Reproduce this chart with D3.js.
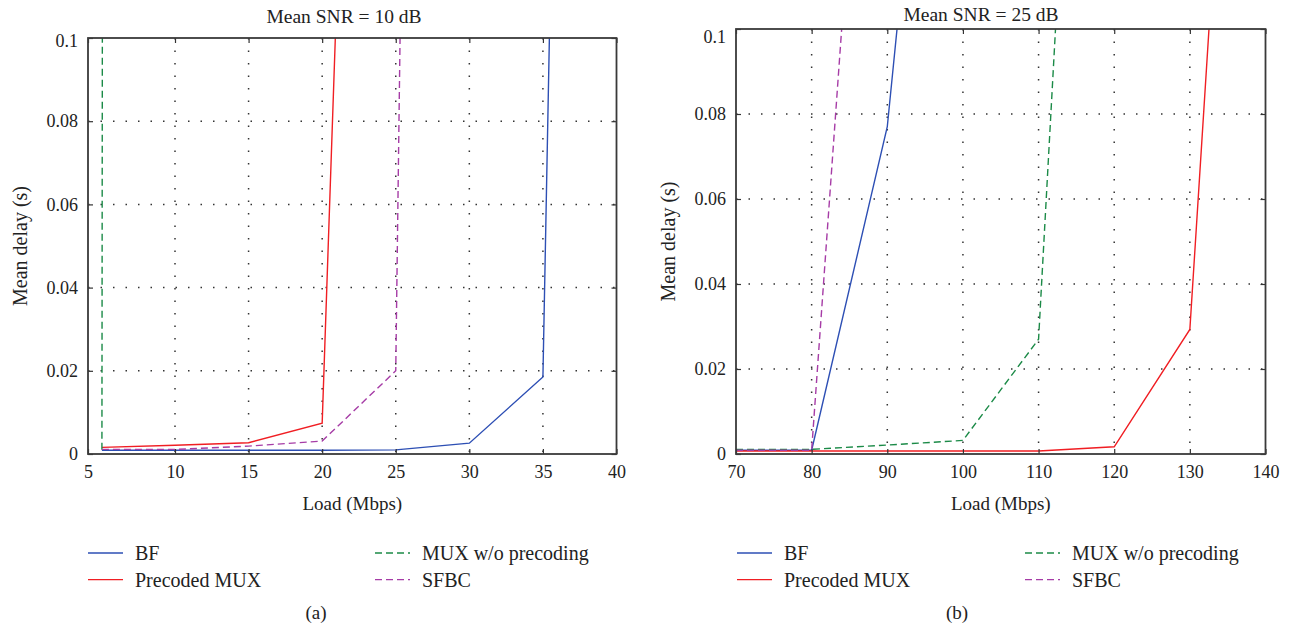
<!DOCTYPE html>
<html>
<head>
<meta charset="utf-8">
<script src="https://cdn.jsdelivr.net/npm/d3@7"></script>
<style>
  body { margin: 0; background: #fff; }
  svg text { font-family: "Liberation Serif", "Times New Roman", serif; fill: #222; }
</style>
</head>
<body>
<svg id="chart" width="1290" height="628"></svg>
<script>
// ---- data ----
// panel (a) : Mean SNR = 10 dB
var loadTicksA = [5, 10, 15, 20, 25, 30, 35, 40];
var bfLoadA   = [5.8, 10, 15, 20, 25, 30, 35, 35.45];
var bfDelayA  = [0.0009, 0.0009, 0.0009, 0.0009, 0.001, 0.0026, 0.0185, 0.102];
var pmuxLoadA  = [5.8, 10, 15, 20, 21];
var pmuxDelayA = [0.0016, 0.0021, 0.0027, 0.0074, 0.111];
var muxLoadA  = [5.8, 5.85];
var muxDelayA = [0.001, 0.2];
var sfbcLoadA  = [5.8, 10, 15, 20, 25, 25.3];
var sfbcDelayA = [0.0011, 0.0011, 0.0019, 0.0031, 0.02, 0.102];

// panel (b) : Mean SNR = 25 dB
var loadTicksB = [70, 80, 90, 100, 110, 120, 130, 140];
var bfLoadB   = [70, 80, 90, 91.4];
var bfDelayB  = [0.0009, 0.0009, 0.077, 0.102];
var pmuxLoadB  = [70, 80, 90, 100, 110, 120, 130, 132.6];
var pmuxDelayB = [0.0007, 0.0007, 0.0007, 0.0007, 0.0007, 0.0017, 0.0293, 0.102];
var muxLoadB  = [70, 80, 90, 100, 110, 112.3];
var muxDelayB = [0.0011, 0.0011, 0.0021, 0.0032, 0.027, 0.102];
var sfbcLoadB  = [70, 80, 84.05];
var sfbcDelayB = [0.0009, 0.0009, 0.102];

var delayTicks = [0, 0.02, 0.04, 0.06, 0.08, 0.1];
var seriesNames = ["BF", "Precoded MUX", "MUX w/o precoding", "SFBC"];
var seriesColors = ["#2d4fb4", "#f01e23", "#1b8a47", "#a63ca6"];
var seriesDash = [null, null, "7,4", "7,4"];

var svg = d3.select("#chart");

function zip(xs, ys) {
  return xs.map(function(x, i) { return { x: x, y: ys[i] }; });
}

function drawPanel(p) {
  var g = svg.append("g");
  var x = d3.scaleLinear().domain(p.xDomain).range(p.xRange);
  var y = d3.scaleLinear().domain([0, 0.1]).range([p.bottom, p.top]);
  var left = p.xRange[0], right = p.xRange[p.xRange.length - 1];
  var w = right - left, h = p.bottom - p.top;

  // dotted grid
  var grid = g.append("g");
  grid.selectAll("line.v").data(p.xTicks.slice(1, -1))
    .enter().append("line").attr("class", "v")
    .attr("x1", function(d) { return x(d); }).attr("x2", function(d) { return x(d); })
    .attr("y1", p.top).attr("y2", p.bottom);
  grid.selectAll("line.h").data(delayTicks.slice(1, -1))
    .enter().append("line").attr("class", "h")
    .attr("x1", left).attr("x2", right)
    .attr("y1", function(d) { return y(d); }).attr("y2", function(d) { return y(d); });
  grid.selectAll("line")
    .attr("stroke", "#333").attr("stroke-width", 1.5)
    .attr("stroke-dasharray", "1.5,11");

  // curves
  var clipId = "clip" + p.id;
  svg.append("clipPath").attr("id", clipId).append("rect")
    .attr("x", left).attr("y", p.top).attr("width", w).attr("height", h);
  var line = d3.line().x(function(d) { return x(d.x); }).y(function(d) { return y(d.y); });
  g.append("g").attr("clip-path", "url(#" + clipId + ")")
    .selectAll("path").data(p.series).enter().append("path")
    .attr("d", function(d) { return line(d); })
    .attr("fill", "none")
    .attr("stroke", function(d, i) { return seriesColors[i]; })
    .attr("stroke-width", 1.4)
    .attr("stroke-dasharray", function(d, i) { return seriesDash[i]; });

  // axes, inward ticks on all four sides
  var axStyle = function(sel) {
    sel.attr("font-family", null).attr("font-size", null);
    sel.selectAll(".domain").remove();
    sel.selectAll(".tick line").attr("stroke", "#333").attr("stroke-width", 1.2);
    sel.selectAll("text").attr("fill", "#222").style("font-size", "18px");
  };
  g.append("g").attr("transform", "translate(0," + p.bottom + ")")
    .call(d3.axisBottom(x).tickValues(p.xTicks).tickFormat(d3.format("d")).tickSizeInner(-5).tickSizeOuter(0).tickPadding(11))
    .call(axStyle);
  g.append("g").attr("transform", "translate(0," + p.top + ")")
    .call(d3.axisTop(x).tickValues(p.xTicks).tickSizeInner(-5).tickSizeOuter(0).tickFormat(""))
    .call(axStyle);
  var yAxis = g.append("g").attr("transform", "translate(" + left + ",0)")
    .call(d3.axisLeft(y).tickValues(delayTicks).tickFormat(function(d) { return d === 0 ? "0" : String(+d.toFixed(2)); })
      .tickSizeInner(-5).tickSizeOuter(0).tickPadding(10))
    .call(axStyle);
  // top label sits a little below the frame edge, as in the figure
  yAxis.selectAll(".tick text").filter(function(d) { return d === 0.1; }).attr("dy", p.topLabelDy);
  g.append("g").attr("transform", "translate(" + right + ",0)")
    .call(d3.axisRight(y).tickValues(delayTicks).tickSizeInner(-5).tickSizeOuter(0).tickFormat(""))
    .call(axStyle);

  g.append("rect").attr("x", left).attr("y", p.top)
    .attr("width", w).attr("height", h)
    .attr("fill", "none").attr("stroke", "#3a3a3a").attr("stroke-width", 1.8);

  g.append("text").attr("x", p.titleX).attr("y", p.titleY).attr("text-anchor", "middle")
    .style("font-size", "19.5px").text(p.title);
  g.append("text").attr("x", (left + right) / 2).attr("y", 510).attr("text-anchor", "middle")
    .style("font-size", "19px").text("Load (Mbps)");
  g.append("text").attr("transform", "translate(" + (left - 61) + "," + ((p.top + p.bottom) / 2) + ") rotate(-90)")
    .attr("text-anchor", "middle").style("font-size", "20px").text("Mean delay (s)");

  // legend
  var items = g.append("g").selectAll("g").data(seriesNames).enter().append("g")
    .attr("transform", function(d, i) {
      var col = i < 2 ? 0 : 1, row = i % 2;
      return "translate(" + (p.legX + col * p.legColW) + "," + (553 + row * 26.6) + ")";
    });
  items.append("line").attr("x1", 0).attr("x2", 35).attr("y1", 0).attr("y2", 0)
    .attr("stroke", function(d, i) { return seriesColors[i]; })
    .attr("stroke-width", 1.4)
    .attr("stroke-dasharray", function(d, i) { return seriesDash[i]; });
  items.append("text").attr("x", 47).attr("y", 7)
    .style("font-size", "20px").text(function(d) { return d; });

  g.append("text").attr("x", p.capX).attr("y", 619).attr("text-anchor", "middle")
    .style("font-size", "19px").text(p.caption);
}

drawPanel({
  id: "a", xDomain: [5, 10, 40], xRange: [88, 175, 616.5], xTicks: loadTicksA,
  top: 38, bottom: 454, topLabelDy: "0.45em",
  title: "Mean SNR = 10 dB", titleX: 344, titleY: 23, caption: "(a)", capX: 316,
  legX: 88, legColW: 287,
  series: [zip(bfLoadA, bfDelayA), zip(pmuxLoadA, pmuxDelayA), zip(muxLoadA, muxDelayA), zip(sfbcLoadA, sfbcDelayA)]
});

drawPanel({
  id: "b", xDomain: [70, 140], xRange: [736, 1265.5], xTicks: loadTicksB,
  top: 29, bottom: 454, topLabelDy: "0.75em",
  title: "Mean SNR = 25 dB", titleX: 981, titleY: 21, caption: "(b)", capX: 957,
  legX: 737, legColW: 288,
  series: [zip(bfLoadB, bfDelayB), zip(pmuxLoadB, pmuxDelayB), zip(muxLoadB, muxDelayB), zip(sfbcLoadB, sfbcDelayB)]
});
</script>
</body>
</html>
